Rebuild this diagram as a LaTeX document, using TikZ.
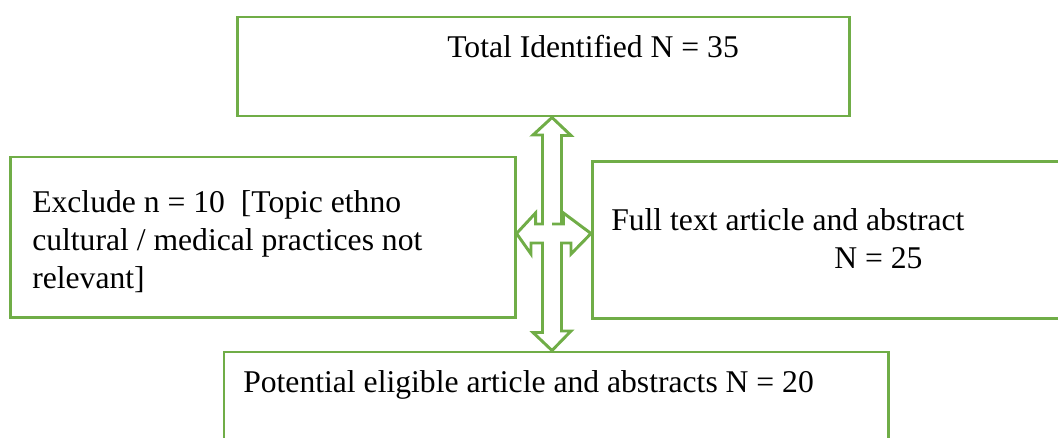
\documentclass[tikz,border=0pt]{standalone}
\usepackage{fontspec}
\setmainfont{Liberation Serif}
\usepackage{xcolor}
\usetikzlibrary{positioning, calc}
\definecolor{boxgreen}{RGB}{112,173,71}

\begin{document}
\begin{tikzpicture}[x=0.025cm, y=-0.025cm,
    box/.style={draw=boxgreen, line width=2.1pt, fill=white, inner sep=0, minimum width=#1},
    lbl/.style={anchor=base west, inner sep=0, align=left, font=\fontsize{22.5}{27}\selectfont}]
      \useasboundingbox (0,0) rectangle (1058,437);
      \clip (0,0) rectangle (1058,437);

      % boxes
      \node[box=15.275cm, minimum height=2.475cm] (total) at (543.5,66.5) {};
      \node[box=12.6cm, minimum height=4cm] (exclude) at (263,237) {};
      \node[box=12.6cm, minimum height=3.925cm, anchor=north west] (fulltext) at (591,160) {};
      \node[box=16.6cm, minimum height=3cm, anchor=north west] (eligible) at (222.5,350.5) {};

      % texts (base of a multi-line node = its last line)
      \node[lbl] (totaltxt) at (447,57) {Total Identified N = 35};
      \node[lbl] (excludetxt) at (32,288) {Exclude n = 10~ [Topic ethno\\cultural / medical practices not\\relevant]};
      \node[lbl] (fulltxt) at (611,230) {Full text article and abstract};
      \node[lbl] (fullnum) at (834,268) {N = 25};
      \node[lbl] (eligtxt) at (243,392) {Potential eligible article and abstracts N = 20};

      % four-way arrow
      \coordinate (hub) at (552,233.5);
      \draw[boxgreen, line width=2.1pt, fill=white, line join=miter]
        (hub |- total.south) -- ++(19,18) -- ++(-9.5,0) |- ($(hub)+(0,-9.5)$) -- ++(11.5,0) -- ++(0,-11)
        -- (hub -| fulltext.west) -- ++(-20,20.5) -- ++(0,-11) -| ($(hub)+(9.5,97.5)$) -- ++(9.5,0)
        -- (hub |- eligible.north) -- ++(-19,-18) -- ++(9.5,0) |- ($(hub)+(-21,9.5)$) -- ++(0,11)
        -- (hub -| exclude.east) -- ++(19,-20.5) -- ++(0,11) -| ($(hub)+(-9.5,-98.5)$) -- ++(-9.5,0) -- cycle;
\end{tikzpicture}
\end{document}
